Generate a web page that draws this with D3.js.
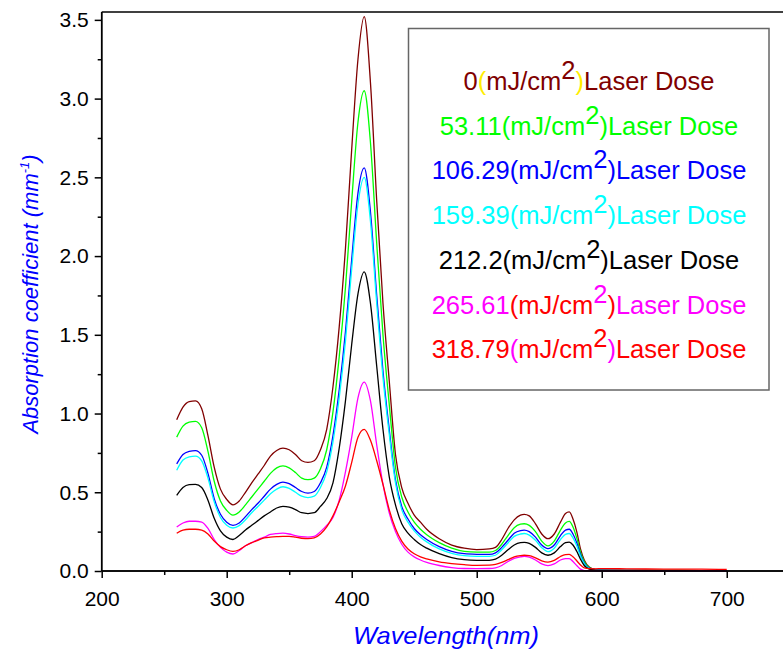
<!DOCTYPE html>
<html>
<head>
<meta charset="utf-8">
<script src="https://cdn.jsdelivr.net/npm/d3@7"></script>
<style>
  body { margin: 0; background: #fff; }
  text { font-family: "Liberation Sans", Arial, sans-serif; }
</style>
</head>
<body>
<script>
// wavelength grid (nm) and absorption for each laser dose
var wavelength = [260,265,270,275,280,285,290,295,300,305,
  310,315,320,325,330,335,340,345,350,355,
  360,365,370,375,380,385,390,395,400,405,
  410,415,420,425,430,435,440,445,450,455,
  460,470,480,490,500,510,515,520,525,530,
  535,538,542,547,552,557,562,567,571,574,
  577,580,583,586,590,595,600,620,650,680,700];

var dose0 = [0.96,1.04,1.075,1.08,1.03,0.86,0.66,0.52,0.455,0.42,
  0.445,0.50,0.56,0.615,0.67,0.73,0.765,0.78,0.77,0.74,
  0.70,0.69,0.70,0.77,0.90,1.17,1.55,2.05,2.68,3.25,
  3.52,3.10,2.35,1.70,1.21,0.74,0.53,0.43,0.355,0.31,
  0.265,0.205,0.165,0.145,0.136,0.14,0.15,0.20,0.27,0.325,
  0.355,0.36,0.35,0.30,0.235,0.205,0.235,0.31,0.365,0.375,
  0.33,0.25,0.14,0.07,0.025,0.01,0.007,0.005,0.004,0.003,0.003];

var dose53 = [0.85,0.92,0.945,0.95,0.91,0.76,0.57,0.445,0.385,0.355,
  0.375,0.42,0.47,0.52,0.57,0.62,0.655,0.667,0.655,0.625,
  0.59,0.58,0.59,0.65,0.77,1.01,1.36,1.80,2.35,2.85,
  3.05,2.72,2.08,1.50,1.06,0.66,0.47,0.375,0.31,0.265,
  0.23,0.18,0.145,0.125,0.12,0.12,0.13,0.17,0.225,0.275,
  0.297,0.30,0.29,0.25,0.19,0.16,0.19,0.26,0.305,0.315,
  0.28,0.21,0.12,0.06,0.022,0.009,0.006,0.004,0.004,0.003,0.003];

var dose106 = [0.68,0.74,0.76,0.765,0.735,0.62,0.46,0.36,0.31,0.29,
  0.305,0.345,0.39,0.43,0.475,0.52,0.55,0.565,0.555,0.53,
  0.505,0.495,0.505,0.56,0.66,0.86,1.15,1.52,1.98,2.40,
  2.56,2.28,1.75,1.27,0.90,0.58,0.41,0.33,0.27,0.23,
  0.20,0.155,0.125,0.11,0.106,0.105,0.115,0.15,0.195,0.24,
  0.257,0.26,0.25,0.215,0.165,0.142,0.165,0.225,0.26,0.265,
  0.235,0.18,0.105,0.05,0.018,0.008,0.005,0.004,0.003,0.003,0.003];

var dose159 = [0.64,0.705,0.725,0.73,0.70,0.59,0.44,0.34,0.29,0.273,
  0.288,0.325,0.37,0.41,0.45,0.49,0.52,0.535,0.525,0.50,
  0.475,0.466,0.475,0.53,0.63,0.82,1.10,1.46,1.92,2.33,
  2.50,2.22,1.70,1.23,0.87,0.56,0.39,0.31,0.255,0.215,
  0.185,0.14,0.112,0.097,0.093,0.093,0.10,0.135,0.178,0.22,
  0.235,0.238,0.228,0.195,0.148,0.123,0.145,0.20,0.233,0.238,
  0.21,0.16,0.095,0.045,0.016,0.007,0.005,0.004,0.003,0.003,0.003];

var dose212 = [0.48,0.53,0.548,0.55,0.53,0.45,0.335,0.255,0.215,0.20,
  0.225,0.26,0.29,0.32,0.35,0.375,0.40,0.41,0.405,0.39,
  0.37,0.365,0.37,0.41,0.46,0.56,0.78,1.08,1.44,1.76,
  1.90,1.70,1.30,0.90,0.60,0.42,0.30,0.24,0.20,0.168,
  0.145,0.11,0.085,0.072,0.068,0.068,0.075,0.10,0.135,0.165,
  0.18,0.182,0.175,0.15,0.115,0.10,0.115,0.155,0.18,0.184,
  0.165,0.125,0.075,0.035,0.012,0.006,0.004,0.003,0.003,0.003,0.003];

var dose265 = [0.28,0.305,0.316,0.316,0.31,0.27,0.20,0.15,0.12,0.108,
  0.13,0.16,0.18,0.20,0.215,0.232,0.238,0.24,0.235,0.225,
  0.218,0.215,0.22,0.25,0.29,0.34,0.45,0.63,0.85,1.10,
  1.20,1.08,0.80,0.55,0.37,0.25,0.17,0.12,0.09,0.07,
  0.055,0.035,0.022,0.016,0.015,0.016,0.02,0.035,0.06,0.08,
  0.09,0.093,0.088,0.07,0.045,0.034,0.045,0.07,0.078,0.079,
  0.06,0.035,0.012,0.003,0.001,0,0,0,0,0,0];

var dose318 = [0.24,0.26,0.265,0.265,0.26,0.235,0.19,0.155,0.135,0.125,
  0.135,0.16,0.18,0.195,0.21,0.215,0.218,0.22,0.22,0.215,
  0.208,0.205,0.21,0.235,0.28,0.35,0.44,0.54,0.69,0.85,
  0.90,0.83,0.70,0.55,0.39,0.27,0.19,0.14,0.11,0.09,
  0.077,0.058,0.047,0.04,0.036,0.037,0.042,0.055,0.072,0.09,
  0.098,0.10,0.097,0.083,0.065,0.057,0.068,0.092,0.104,0.106,
  0.09,0.065,0.038,0.02,0.015,0.014,0.015,0.014,0.012,0.012,0.01];

var doses = ["0", "53.11", "106.29", "159.39", "212.2", "265.61", "318.79"];
var series = [dose0, dose53, dose106, dose159, dose212, dose265, dose318];

var xMajor = [200, 300, 400, 500, 600, 700];
var xMinor = [250, 350, 450, 550, 650];
var yMajor = [0, 0.5, 1.0, 1.5, 2.0, 2.5, 3.0, 3.5];
var yMinor = [0.25, 0.75, 1.25, 1.75, 2.25, 2.75, 3.25];

// colours
var colors = ["#800000", "#00ff00", "#0000ff", "#00ffff", "#000000", "#ff00ff", "#ff0000"];
// legend part colours: number, "(", "mJ/cm", "2", ")", "Laser Dose"
var Y = "#ffee00", M = "#ff00ff", R = "#ff0000";
var partColors = [
  ["#800000", Y, "#800000", "#800000", Y, "#800000"],
  null, null, null, null,
  [M, R, R, M, R, M],
  [R, M, R, R, M, R]
];

var w = 783, h = 657;
var x = d3.scaleLinear().domain([200, 745]).range([101.7, 783]);
var y = d3.scaleLinear().domain([0, 3.55]).range([571, 12]);

var svg = d3.select("body").append("svg")
  .attr("width", w)
  .attr("height", h);

// curves
var line = d3.line()
  .x(function(d) { return x(d[0]); })
  .y(function(d) { return y(d[1]); })
  .curve(d3.curveMonotoneX);

series.forEach(function(s, i) {
  svg.append("path")
    .datum(wavelength.map(function(l, j) { return [l, s[j]]; }))
    .attr("d", line)
    .attr("fill", "none")
    .attr("stroke", colors[i])
    .attr("stroke-width", 1.3);
});

// axes
var gx = svg.append("g").attr("transform", "translate(0,571)");
gx.call(d3.axisBottom(x).tickValues(xMajor).tickSize(7).tickPadding(13).tickFormat(d3.format("d")));
gx.append("g").call(d3.axisBottom(x).tickValues(xMinor).tickSize(4).tickFormat(""));
gx.selectAll(".domain").attr("d", "M101.7,0H783");

var gy = svg.append("g").attr("transform", "translate(101.7,0)");
gy.call(d3.axisLeft(y).tickValues(yMajor).tickSize(7).tickPadding(6).tickFormat(d3.format(".1f")));
gy.append("g").call(d3.axisLeft(y).tickValues(yMinor).tickSize(4).tickFormat(""));
gy.selectAll(".domain").attr("d", "M0,571V12");

svg.selectAll(".tick line, .domain").attr("stroke", "#000").attr("stroke-width", 1.5);
svg.selectAll(".tick text").attr("font-size", 21).attr("fill", "#000")
  .attr("font-family", "'Liberation Sans', Arial, sans-serif");

// top frame
svg.append("line")
  .attr("x1", 101.7).attr("x2", 783).attr("y1", 12).attr("y2", 12)
  .attr("stroke", "#000").attr("stroke-width", 1.5);

// axis titles
svg.append("text")
  .attr("x", 446).attr("y", 644)
  .attr("text-anchor", "middle")
  .attr("font-size", 24).attr("font-style", "italic").attr("fill", "#0000ff")
  .attr("textLength", 186).attr("lengthAdjust", "spacingAndGlyphs")
  .text("Wavelength(nm)");

var yt = svg.append("text")
  .attr("transform", "translate(38,294) rotate(-90)")
  .attr("text-anchor", "middle")
  .attr("font-size", 22).attr("font-style", "italic").attr("fill", "#0000ff");
yt.append("tspan").text("Absorption coefficient (mm");
yt.append("tspan").attr("font-size", 13).attr("dy", -9).text("-1");
yt.append("tspan").attr("dy", 9).text(")");

// legend
svg.append("rect")
  .attr("x", 408.5).attr("y", 28.5).attr("width", 360.5).attr("height", 361.5)
  .attr("fill", "#fff").attr("stroke", "#666").attr("stroke-width", 1.5);

doses.forEach(function(d, i) {
  var pc = partColors[i] || [colors[i], colors[i], colors[i], colors[i], colors[i], colors[i]];
  var t = svg.append("text")
    .attr("x", 589).attr("y", 90 + i * 44.7)
    .attr("text-anchor", "middle")
    .attr("font-size", 25.5);
  t.append("tspan").attr("fill", pc[0]).text(d);
  t.append("tspan").attr("fill", pc[1]).text("(");
  t.append("tspan").attr("fill", pc[2]).text("mJ/cm");
  t.append("tspan").attr("fill", pc[3]).attr("dy", -11).text("2");
  t.append("tspan").attr("fill", pc[4]).attr("dy", 11).text(")");
  t.append("tspan").attr("fill", pc[5]).text("Laser Dose");
});
</script>
</body>
</html>
